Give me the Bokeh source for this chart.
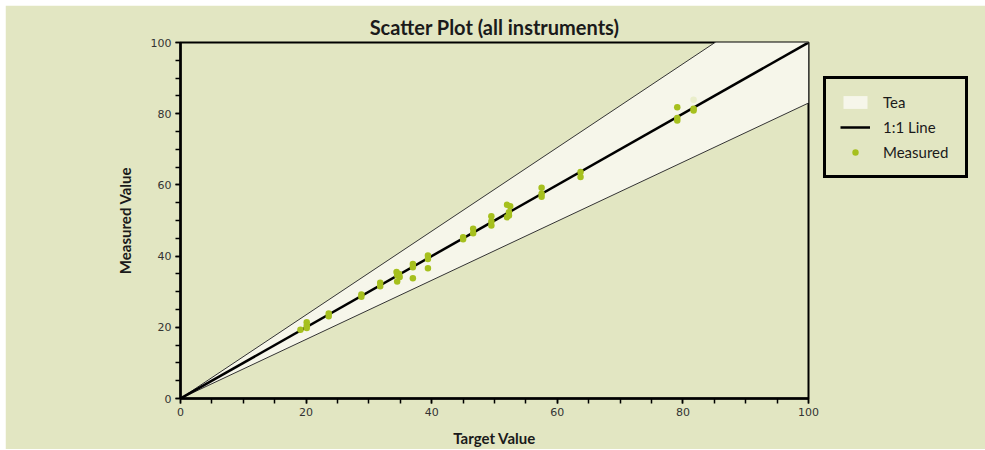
from bokeh.plotting import figure
from bokeh.models import Range1d, SingleIntervalTicker, Legend, LegendItem
from bokeh.embed import file_html
from bokeh.resources import INLINE

# ---- data ----
target = [19.1, 20.1, 20.1, 20.1, 23.6, 23.6, 28.8, 28.8, 31.8, 31.8,
          34.4, 34.5, 34.8, 34.5, 34.9, 37.0, 37.0, 37.0, 39.4, 39.4, 39.4,
          45.0, 45.0, 46.6, 46.6, 49.5, 49.5, 49.5, 52.0, 52.5, 52.3, 52.3, 52.0,
          57.5, 57.5, 57.5, 63.7, 63.7, 79.1, 79.1, 79.1, 81.7, 81.7]
measured = [19.3, 21.4, 19.8, 20.5, 23.9, 23.1, 29.2, 28.6, 32.5, 31.5,
            35.5, 34.6, 35.0, 32.9, 34.1, 37.8, 36.9, 33.8, 40.2, 39.2, 36.6,
            45.3, 44.7, 47.7, 46.4, 51.2, 49.7, 48.6, 54.4, 54.0, 52.3, 51.4, 50.9,
            59.2, 57.5, 56.7, 63.6, 62.2, 81.8, 78.8, 78.1, 81.4, 80.9]
faint_target = [81.7]
faint_measured = [83.9]
line_x = [0, 100]
band_upper_factor = 1.175
band_lower_factor = 0.83
band_x = [0, 100]
band_upper = [v * band_upper_factor for v in band_x]
band_lower = [v * band_lower_factor for v in band_x]

BG = "#e2e6c2"
BAND = "#f6f6ea"
PT = "#a6c01e"
FONT = "Lato"

p = figure(frame_width=628, frame_height=356, margin=(5, 0, 1, 5),
           output_backend="svg", toolbar_location=None,
           x_range=Range1d(0, 100), y_range=Range1d(0, 100),
           min_border_left=175, min_border_right=177,
           min_border_top=37, min_border_bottom=51,
           title="Scatter Plot (all instruments)")

p.background_fill_color = BG
p.border_fill_color = BG
p.outline_line_color = "black"
p.outline_line_width = 2
p.outline_line_alpha = 1
p.grid.visible = False

p.title.align = "center"
p.title.text_font = FONT
p.title.text_font_size = "20px"
p.title.text_font_style = "bold"
p.title.text_color = "#1a1a1a"
p.title.standoff = 7

for ax in (p.xaxis[0], p.yaxis[0]):
    ax.ticker = SingleIntervalTicker(interval=20, num_minor_ticks=4)
    ax.axis_line_width = 2.5
    ax.axis_line_color = "black"
    ax.major_tick_out = 5
    ax.major_tick_in = 0
    ax.minor_tick_out = 5
    ax.minor_tick_in = 0
    ax.major_tick_line_width = 1.5
    ax.minor_tick_line_width = 1.5
    ax.major_label_text_font = "DejaVu Sans"
    ax.major_label_text_font_size = "11px"
    ax.major_label_text_color = "#333333"
    ax.axis_label_text_font = FONT
    ax.axis_label_text_font_size = "15px"
    ax.axis_label_text_font_style = "bold"
    ax.axis_label_text_color = "#1a1a1a"

p.xaxis.axis_label = "Target Value"
p.yaxis.axis_label = "Measured Value"
p.xaxis.major_label_standoff = 4
p.yaxis.major_label_standoff = 4
p.xaxis.axis_label_standoff = 10
p.yaxis.axis_label_standoff = 14

band = p.varea(x=band_x, y1=band_lower, y2=band_upper, fill_color=BAND)
p.line(band_x, band_upper, line_color="#333333", line_width=1)
p.line(band_x, band_lower, line_color="#333333", line_width=1)
one = p.line(line_x, line_x, line_color="black", line_width=2.5)
pts = p.scatter(target, measured, size=6.5, fill_color=PT, line_color=None)
p.scatter(faint_target, faint_measured, size=6.5, fill_color=PT, fill_alpha=0.15, line_color=None)

legend = Legend(items=[LegendItem(label="Tea", renderers=[band]),
                       LegendItem(label="1:1 Line", renderers=[one]),
                       LegendItem(label="Measured", renderers=[pts])],
                location=(15, 220))
legend.background_fill_color = BG
legend.background_fill_alpha = 1
legend.border_line_color = "black"
legend.border_line_alpha = 1
legend.border_line_width = 3
legend.label_text_font = FONT
legend.label_text_font_size = "15px"
legend.label_text_color = "#1a1a1a"
legend.padding = 14
legend.spacing = 7
legend.glyph_height = 16
legend.label_height = 16
legend.glyph_width = 30
legend.label_width = 68
legend.label_standoff = 13
legend.margin = 0
p.add_layout(legend, "right")

open("out.html", "w").write(file_html(p, INLINE))
